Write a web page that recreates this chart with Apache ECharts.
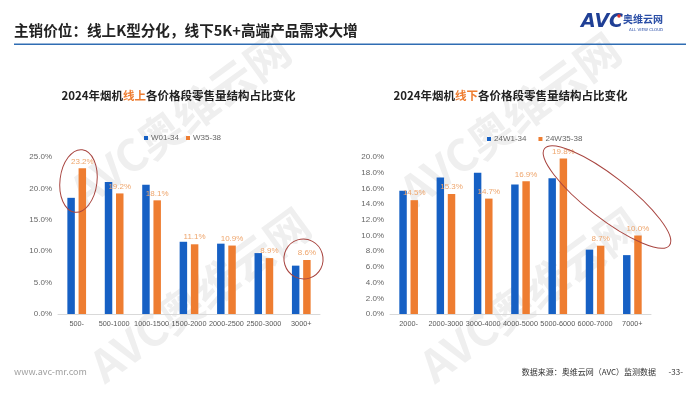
<!DOCTYPE html>
<html>
<head>
<meta charset="utf-8">
<script src="https://cdn.jsdelivr.net/npm/echarts@6/dist/echarts.min.js"></script>
<style>html,body{margin:0;padding:0;background:#fff;}#c{width:700px;height:394px;}</style>
</head>
<body>
<div id="c"></div>
<script>
// ---- data ----
const onlineCats = ['500-', '500-1000', '1000-1500', '1500-2000', '2000-2500', '2500-3000', '3000+'];
const onlineA = [18.5, 21.0, 20.6, 11.5, 11.2, 9.7, 7.7];      // W01-34
const onlineB = [23.2, 19.2, 18.1, 11.1, 10.9, 8.9, 8.6];      // W35-38
const offlineCats = ['2000-', '2000-3000', '3000-4000', '4000-5000', '5000-6000', '6000-7000', '7000+'];
const offlineA = [15.7, 17.4, 18.0, 16.5, 17.3, 8.2, 7.5];     // 24W1-34
const offlineB = [14.5, 15.3, 14.7, 16.9, 19.8, 8.7, 10.0];    // 24W35-38
const onlineNames = ['W01-34', 'W35-38'];
const offlineNames = ['24W1-34', '24W35-38'];

const BLUE = '#1660c4', ORANGE = '#ee7d31', LBL = '#eea56c';
const FONT = '"Noto Sans CJK SC", "DejaVu Sans", sans-serif';
const NFONT = '"Liberation Sans", "Noto Sans", sans-serif';
const pct = v => v.toFixed(1) + '%';

const chart = echarts.init(document.getElementById('c'), null, {renderer: 'canvas'});

function yAxis(gi, max, interval) {
  return {
    type: 'value', gridIndex: gi, min: 0, max: max, interval: interval,
    axisLine: {show: false}, axisTick: {show: false}, splitLine: {show: false},
    axisLabel: {formatter: pct, color: '#666', fontSize: 8, margin: 6, fontFamily: NFONT}
  };
}
function xAxis(gi, cats) {
  return {
    type: 'category', gridIndex: gi, data: cats,
    axisLine: {lineStyle: {color: '#d9d9d9'}}, axisTick: {show: false},
    axisLabel: {color: '#595959', fontSize: 7.3, margin: 6, interval: 0, fontFamily: NFONT}
  };
}
function bar(name, gi, data, color, withLabel) {
  return {
    name: name, type: 'bar', xAxisIndex: gi, yAxisIndex: gi, data: data,
    barWidth: '20%', barGap: '50%', itemStyle: {color: color},
    label: {show: withLabel, position: 'top', distance: 3, formatter: p => pct(p.value), color: LBL, fontSize: 8, fontFamily: NFONT},
    z: withLabel ? 3 : 2
  };
}
function wm(x, y, size) {
  return {type: 'text', x: x, y: y, rotation: Math.PI * 0.2, silent: true, z: -10,
    style: {text: 'AVC奥维云网', fill: '#efefef', font: 'bold ' + size + 'px ' + FONT, align: 'center', verticalAlign: 'middle'}};
}

const option = {
  animation: false,
  backgroundColor: '#ffffff',
  textStyle: {fontFamily: FONT},
  grid: [
    {left: 58, width: 262, top: 157, height: 157},
    {left: 390, width: 261, top: 157, height: 157}
  ],
  xAxis: [xAxis(0, onlineCats), xAxis(1, offlineCats)],
  yAxis: [yAxis(0, 25, 5), yAxis(1, 20, 2)],
  legend: [
    {data: onlineNames, left: 139, top: 129, icon: 'rect', itemWidth: 4, itemHeight: 4, itemGap: 7,
      textStyle: {fontSize: 8, color: '#666', fontFamily: NFONT, padding: [0, 0, 0, -2]}},
    {data: offlineNames, left: 482, top: 130, icon: 'rect', itemWidth: 4, itemHeight: 4, itemGap: 12,
      textStyle: {fontSize: 8, color: '#666', fontFamily: NFONT, padding: [0, 0, 0, -2]}}
  ],
  series: [
    bar(onlineNames[0], 0, onlineA, BLUE, false),
    bar(onlineNames[1], 0, onlineB, ORANGE, true),
    bar(offlineNames[0], 1, offlineA, BLUE, false),
    bar(offlineNames[1], 1, offlineB, ORANGE, true)
  ],
  graphic: [
    wm(180, 120, 44), wm(510, 120, 44), wm(200, 295, 44), wm(530, 295, 44),
    // header
    {type: 'text', x: 14, y: 30, style: {text: '主销价位：线上K型分化，线下5K+高端产品需求大增', fill: '#222', font: 'bold 14.6px ' + FONT, verticalAlign: 'middle'}},
    {type: 'rect', shape: {x: 14, y: 43.5, width: 672, height: 1.5}, style: {fill: '#2f6db3'}},
    // logo
    {type: 'text', x: 581, y: 22, style: {text: 'AVC', fill: '#1f3f95', font: 'italic bold 19px "DejaVu Sans", sans-serif', verticalAlign: 'middle'}},
    {type: 'circle', shape: {cx: 619, cy: 16, r: 1.8}, style: {fill: '#e0312b'}},
    {type: 'text', x: 623, y: 19, style: {text: '奥维云网', fill: '#2a4ea6', font: 'bold 10px ' + FONT, verticalAlign: 'middle'}},
    {type: 'text', x: 629, y: 29.5, style: {text: 'ALL VIEW CLOUD', fill: '#2a4ea6', font: '4px "DejaVu Sans", sans-serif', verticalAlign: 'middle'}},
    // chart titles
    {type: 'text', x: 178.5, y: 96, style: {text: '{a|2024年烟机}{b|线上}{a|各价格段零售量结构占比变化}', align: 'center', verticalAlign: 'middle',
      rich: {a: {fill: '#222', font: 'bold 11.5px ' + FONT}, b: {fill: ORANGE, font: 'bold 11.5px ' + FONT}}}},
    {type: 'text', x: 510.5, y: 96, style: {text: '{a|2024年烟机}{b|线下}{a|各价格段零售量结构占比变化}', align: 'center', verticalAlign: 'middle',
      rich: {a: {fill: '#222', font: 'bold 11.5px ' + FONT}, b: {fill: ORANGE, font: 'bold 11.5px ' + FONT}}}},
    // annotation ellipses
    {type: 'ellipse', shape: {cx: 78.5, cy: 181, rx: 18.5, ry: 31.5}, rotation: -0.12, originX: 78.5, originY: 181, z: 10, silent: true,
      style: {fill: 'none', stroke: '#a8443f', lineWidth: 1}},
    {type: 'ellipse', shape: {cx: 303.5, cy: 259, rx: 19.5, ry: 20}, rotation: 0.3, originX: 303.5, originY: 259, z: 10, silent: true,
      style: {fill: 'none', stroke: '#a8443f', lineWidth: 1}},
    {type: 'ellipse', shape: {cx: 607, cy: 197, rx: 79, ry: 21}, rotation: -0.66, originX: 607, originY: 197, z: 10, silent: true,
      style: {fill: 'none', stroke: '#a8443f', lineWidth: 1}},
    // footer
    {type: 'text', x: 14, y: 372, style: {text: 'www.avc-mr.com', fill: '#a0a0a0', font: '9px ' + FONT, verticalAlign: 'middle'}},
    {type: 'text', x: 656, y: 372, style: {text: '数据来源：奥维云网（AVC）监测数据', fill: '#333', font: '8px ' + FONT, align: 'right', verticalAlign: 'middle'}},
    {type: 'text', x: 683, y: 372, style: {text: '-33-', fill: '#333', font: '8px ' + FONT, align: 'right', verticalAlign: 'middle'}}
  ]
};
chart.setOption(option);
</script>
</body>
</html>
